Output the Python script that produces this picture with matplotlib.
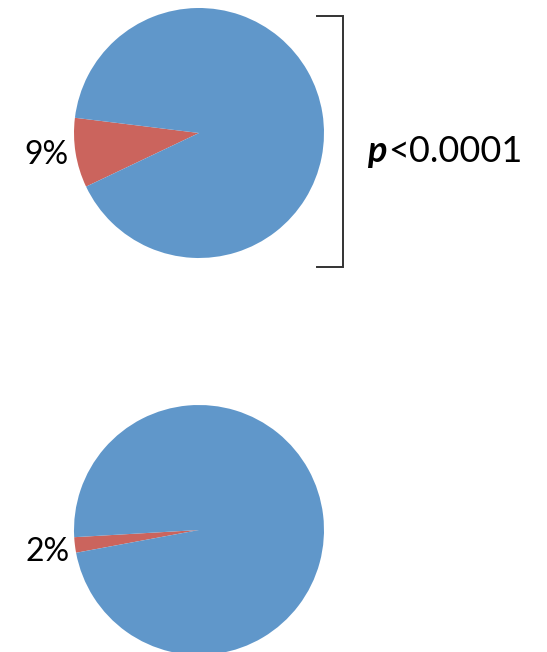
import matplotlib.pyplot as plt

plt.rcParams['font.family'] = ['Lato', 'DejaVu Sans']

# shares for each group (percent): event vs. no event
top_shares = [9, 91]
bottom_shares = [2, 98]
top_label = '9%'
bottom_label = '2%'
p_text = '<0.0001'

red = '#CB645D'
blue = '#6097CA'

W, H = 547, 652
fig = plt.figure(figsize=(W / 100, H / 100), dpi=100)
ax = fig.add_axes([0, 0, 1, 1])

R = 125
ax.pie(top_shares, colors=[red, blue], startangle=173,
       center=(199, H - 133), radius=R)
ax.pie(bottom_shares, colors=[red, blue], startangle=183.3,
       center=(199, H - 530), radius=R)

# percentage labels, right aligned just outside the red wedge
ax.text(69, H - 164, top_label, fontsize=23, ha='right', va='baseline')
ax.text(70, H - 561, bottom_label, fontsize=23, ha='right', va='baseline')

# bracket linking the two groups
ax.plot([317, 343, 343, 317], [H - 16, H - 16, H - 267, H - 267],
        color='#333333', lw=1.4, solid_joinstyle='miter')

pt = ax.text(367, H - 162, 'p', fontsize=26, fontweight='bold', style='italic',
             ha='left', va='baseline')
ax.annotate(p_text, xy=(1, 0), xycoords=pt, xytext=(1, 0), textcoords='offset points',
            fontsize=26, ha='left', va='bottom')

ax.set_xlim(0, W)
ax.set_ylim(0, H)
ax.set_aspect('auto')
ax.axis('off')

fig.savefig('out.png', dpi=100)
